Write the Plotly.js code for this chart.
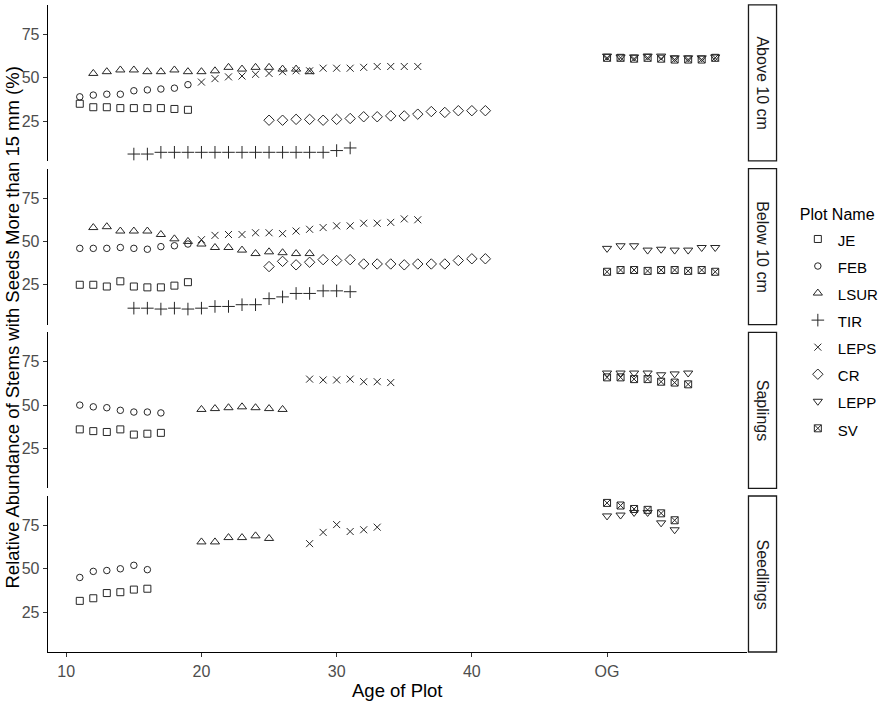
<!DOCTYPE html>
<html>
<head>
<meta charset="utf-8">
<script src="https://cdn.plot.ly/plotly-3.0.1.min.js"></script>
<style>
  html, body { margin: 0; padding: 0; background: #fff; }
  #chart { width: 893px; height: 702px; }
</style>
</head>
<body>
<div id="chart"></div>
<script>
var facets = ['Above 10 cm', 'Below 10 cm', 'Saplings', 'Seedlings'];
var plotNames = ['JE', 'FEB', 'LSUR', 'TIR', 'LEPS', 'CR', 'LEPP', 'SV'];
var tickVals = [10, 20, 30, 40, 50];
var tickText = ['10', '20', '30', '40', 'OG'];

// Above 10 cm
var aboveJE_age = [11, 12, 13, 14, 15, 16, 17, 18, 19];
var aboveJE = [35, 33, 33, 32.5, 32.5, 32.5, 32.5, 32, 31.5];
var aboveFEB_age = [11, 12, 13, 14, 15, 16, 17, 18, 19];
var aboveFEB = [39, 40, 40.5, 40.5, 42.5, 43, 43.5, 44, 46];
var aboveLSUR_age = [12, 13, 14, 15, 16, 17, 18, 19, 20, 21, 22, 23, 24, 25, 26, 27, 28];
var aboveLSUR = [52.5, 53.5, 54.5, 54.5, 53.5, 53.5, 54.5, 53.5, 53.5, 54, 56, 55, 56, 56, 55, 55, 53.5];
var aboveTIR_age = [15, 16, 17, 18, 19, 20, 21, 22, 23, 24, 25, 26, 27, 28, 29, 30, 31];
var aboveTIR = [6, 6, 7, 7, 7, 7, 7, 7, 7, 7, 7, 7, 7, 7, 7, 8, 9.5];
var aboveLEPS_age = [20, 21, 22, 23, 24, 25, 26, 27, 28, 29, 30, 31, 32, 33, 34, 35, 36];
var aboveLEPS = [47.5, 49.5, 50.5, 51, 52, 52.5, 53.5, 54, 54, 55.5, 55.5, 55.5, 56, 56.5, 56.5, 56.5, 56.5];
var aboveCR_age = [25, 26, 27, 28, 29, 30, 31, 32, 33, 34, 35, 36, 37, 38, 39, 40, 41];
var aboveCR = [25.5, 25.5, 26, 26, 25.5, 26, 26.5, 27.5, 27.5, 28, 28, 29, 30.5, 30, 31, 31, 31];
var aboveLEPP_age = [50, 51, 52, 53, 54, 55, 56, 57, 58];
var aboveLEPP = [62.5, 62, 62, 62.5, 62.5, 61.5, 61.5, 61.5, 62];
var aboveSV_age = [50, 51, 52, 53, 54, 55, 56, 57, 58];
var aboveSV = [61.5, 61.5, 61, 61.5, 61, 60.5, 60.5, 60.5, 61.5];

// Below 10 cm
var belowJE_age = [11, 12, 13, 14, 15, 16, 17, 18, 19];
var belowJE = [25, 25, 24, 27, 24, 23.5, 23.5, 24.5, 26.5];
var belowFEB_age = [11, 12, 13, 14, 15, 16, 17, 18, 19];
var belowFEB = [46, 46, 46, 46.5, 46, 45.5, 47, 47.5, 48.5];
var belowLSUR_age = [12, 13, 14, 15, 16, 17, 18, 19, 20, 21, 22, 23, 24, 25, 26, 27, 28];
var belowLSUR = [58, 58.5, 56, 56, 56, 54, 51.5, 50, 48.5, 46.5, 46.5, 45, 43, 44, 43.5, 43, 43];
var belowTIR_age = [15, 16, 17, 18, 19, 20, 21, 22, 23, 24, 25, 26, 27, 28, 29, 30, 31];
var belowTIR = [11.5, 11.5, 11, 11.5, 11, 11.5, 12.5, 12.5, 13.5, 13.5, 17, 18, 20, 20, 21.5, 21.5, 21];
var belowLEPS_age = [20, 21, 22, 23, 24, 25, 26, 27, 28, 29, 30, 31, 32, 33, 34, 35, 36];
var belowLEPS = [51, 53.5, 54, 54, 55, 55, 54.5, 56, 57, 58, 59, 59, 60.5, 60.5, 61, 63, 62.5];
var belowCR_age = [25, 26, 27, 28, 29, 30, 31, 32, 33, 34, 35, 36, 37, 38, 39, 40, 41];
var belowCR = [35.5, 38.5, 36.5, 38, 39.5, 39, 39.5, 37, 37, 37, 36.5, 37, 37, 37, 39, 40, 40];
var belowLEPP_age = [50, 51, 52, 53, 54, 55, 56, 57, 58];
var belowLEPP = [46, 47.5, 47.5, 45, 45.5, 45, 45, 46.5, 46.5];
var belowSV_age = [50, 51, 52, 53, 54, 55, 56, 57, 58];
var belowSV = [32.5, 33.5, 33.5, 33, 33.5, 33.5, 33, 33.5, 32.5];

// Saplings
var saplJE_age = [11, 12, 13, 14, 15, 16, 17];
var saplJE = [36, 35, 34.5, 36, 33, 33.5, 34];
var saplFEB_age = [11, 12, 13, 14, 15, 16, 17];
var saplFEB = [50, 49, 48.5, 47, 46, 46, 45.5];
var saplLSUR_age = [20, 21, 22, 23, 24, 25, 26];
var saplLSUR = [47.5, 48, 48.5, 49, 48.5, 48, 47.5];
var saplLEPS_age = [28, 29, 30, 31, 32, 33, 34];
var saplLEPS = [65, 64.5, 64.5, 65, 63.5, 63.5, 63];
var saplLEPP_age = [50, 51, 52, 53, 54, 55, 56];
var saplLEPP = [68.5, 68.5, 68.5, 68.5, 67.5, 68, 68.5];
var saplSV_age = [50, 51, 52, 53, 54, 55, 56];
var saplSV = [66, 66, 65, 65, 63.5, 63, 62];

// Seedlings
var seedJE_age = [11, 12, 13, 14, 15, 16];
var seedJE = [31.5, 33, 36, 36.5, 38, 38.5];
var seedFEB_age = [11, 12, 13, 14, 15, 16];
var seedFEB = [45, 48.5, 49, 50, 52, 49.5];
var seedLSUR_age = [20, 21, 22, 23, 24, 25];
var seedLSUR = [65.5, 65.5, 68, 68, 69, 67.5];
var seedLEPS_age = [28, 29, 30, 31, 32, 33];
var seedLEPS = [64.5, 71, 75.5, 71.5, 72.5, 74];
var seedLEPP_age = [50, 51, 52, 53, 54, 55];
var seedLEPP = [80.5, 81, 82.5, 82.5, 76.5, 72.5];
var seedSV_age = [50, 51, 52, 53, 54, 55];
var seedSV = [88, 86.5, 84.5, 84, 82, 78];

var facetData = {
    'Above 10 cm': {
        JE: [aboveJE_age, aboveJE], FEB: [aboveFEB_age, aboveFEB], LSUR: [aboveLSUR_age, aboveLSUR],
        TIR: [aboveTIR_age, aboveTIR], LEPS: [aboveLEPS_age, aboveLEPS], CR: [aboveCR_age, aboveCR],
        LEPP: [aboveLEPP_age, aboveLEPP], SV: [aboveSV_age, aboveSV]
    },
    'Below 10 cm': {
        JE: [belowJE_age, belowJE], FEB: [belowFEB_age, belowFEB], LSUR: [belowLSUR_age, belowLSUR],
        TIR: [belowTIR_age, belowTIR], LEPS: [belowLEPS_age, belowLEPS], CR: [belowCR_age, belowCR],
        LEPP: [belowLEPP_age, belowLEPP], SV: [belowSV_age, belowSV]
    },
    'Saplings': {
        JE: [saplJE_age, saplJE], FEB: [saplFEB_age, saplFEB], LSUR: [saplLSUR_age, saplLSUR],
        LEPS: [saplLEPS_age, saplLEPS], LEPP: [saplLEPP_age, saplLEPP], SV: [saplSV_age, saplSV]
    },
    'Seedlings': {
        JE: [seedJE_age, seedJE], FEB: [seedFEB_age, seedFEB], LSUR: [seedLSUR_age, seedLSUR],
        LEPS: [seedLEPS_age, seedLEPS], LEPP: [seedLEPP_age, seedLEPP], SV: [seedSV_age, seedSV]
    }
};

var symbols = {
    JE: ['square-open', 7], FEB: ['circle-open', 6.5], LSUR: ['triangle-up-open', 8],
    TIR: ['cross-thin-open', 9], LEPS: ['x-thin-open', 7], CR: ['diamond-open', 8],
    LEPP: ['triangle-down-open', 8], SV: ['square-x-open', 7]
};

var FONT = 'Liberation Sans, Arial, sans-serif';
var ink = '#262626';

// panel layout (paper fractions), top to bottom
var panelH = 0.2404, panelGap = 0.0118;
var axisIds = ['y4', 'y3', 'y2', 'y'];

var traces = [];
facets.forEach(function(f, i) {
    plotNames.forEach(function(name) {
        var d = facetData[f][name];
        if (!d) return;
        traces.push({
            x: d[0], y: d[1],
            xaxis: 'x', yaxis: axisIds[i],
            type: 'scatter', mode: 'markers',
            name: '<span style="font-size:15px">' + name + '</span>',
            legendgroup: name,
            showlegend: i === 0,
            marker: {
                symbol: symbols[name][0], size: symbols[name][1],
                color: ink, line: { color: ink, width: 1 }
            },
            hoverinfo: 'x+y+name'
        });
    });
});

function yAxis(i) {
    var bottom = (3 - i) * (panelH + panelGap);
    return {
        domain: [bottom, bottom + panelH],
        range: [2, 92],
        tickvals: [25, 50, 75],
        ticks: 'outside', ticklen: 4, tickcolor: '#333', tickwidth: 1,
        showline: true, linecolor: '#000', linewidth: 1.3,
        showgrid: false, zeroline: false,
        tickfont: { family: FONT, size: 16, color: '#4d4d4d' },
        anchor: 'x', fixedrange: true
    };
}

var shapes = [], annotations = [];
var stripX0 = 0.8389, stripX1 = 0.8725;
facets.forEach(function(f, i) {
    var bottom = (3 - i) * (panelH + panelGap);
    shapes.push({
        type: 'rect', xref: 'paper', yref: 'paper',
        x0: stripX0, x1: stripX1, y0: bottom, y1: bottom + panelH,
        line: { color: '#1a1a1a', width: 1.3 }, fillcolor: '#fff'
    });
    annotations.push({
        text: f, xref: 'paper', yref: 'paper',
        x: (stripX0 + stripX1) / 2, y: bottom + panelH / 2,
        xanchor: 'center', yanchor: 'middle',
        textangle: 90, showarrow: false,
        font: { family: FONT, size: 16, color: '#1a1a1a' }
    });
});

annotations.push({
    text: 'Relative Abundance of Stems with Seeds More than 15 mm (%)',
    xref: 'paper', yref: 'paper', x: -0.0431, y: 0.5,
    xanchor: 'center', yanchor: 'middle',
    textangle: -90, showarrow: false,
    font: { family: FONT, size: 18.5, color: '#000' }
});
annotations.push({
    text: 'Age of Plot',
    xref: 'paper', yref: 'paper', x: 0.4186, y: -0.0586,
    xanchor: 'center', yanchor: 'middle', showarrow: false,
    font: { family: FONT, size: 18.5, color: '#000' }
});

var layout = {
    width: 893, height: 702,
    margin: { l: 48, r: 10, t: 3, b: 50 },
    paper_bgcolor: '#fff', plot_bgcolor: '#fff',
    font: { family: FONT },
    showlegend: true,
    legend: {
        x: 0.898, xanchor: 'left', y: 0.697, yanchor: 'top',
        font: { family: FONT, size: 18.5, color: '#000' },
        title: { text: 'Plot Name', font: { family: FONT, size: 16, color: '#000' } },
        itemwidth: 30, bgcolor: 'rgba(0,0,0,0)', tracegroupgap: 0
    },
    xaxis: {
        domain: [0, 0.8371], range: [8.65, 60.35],
        tickvals: tickVals, ticktext: tickText,
        ticks: 'outside', ticklen: 4, tickcolor: '#333', tickwidth: 1,
        showline: true, linecolor: '#000', linewidth: 1.3,
        showgrid: false, zeroline: false,
        tickfont: { family: FONT, size: 16, color: '#4d4d4d' },
        anchor: 'y', fixedrange: true
    },
    yaxis: yAxis(3), yaxis2: yAxis(2), yaxis3: yAxis(1), yaxis4: yAxis(0),
    shapes: shapes,
    annotations: annotations
};

Plotly.newPlot('chart', traces, layout, { displayModeBar: false, staticPlot: true });
</script>
</body>
</html>
